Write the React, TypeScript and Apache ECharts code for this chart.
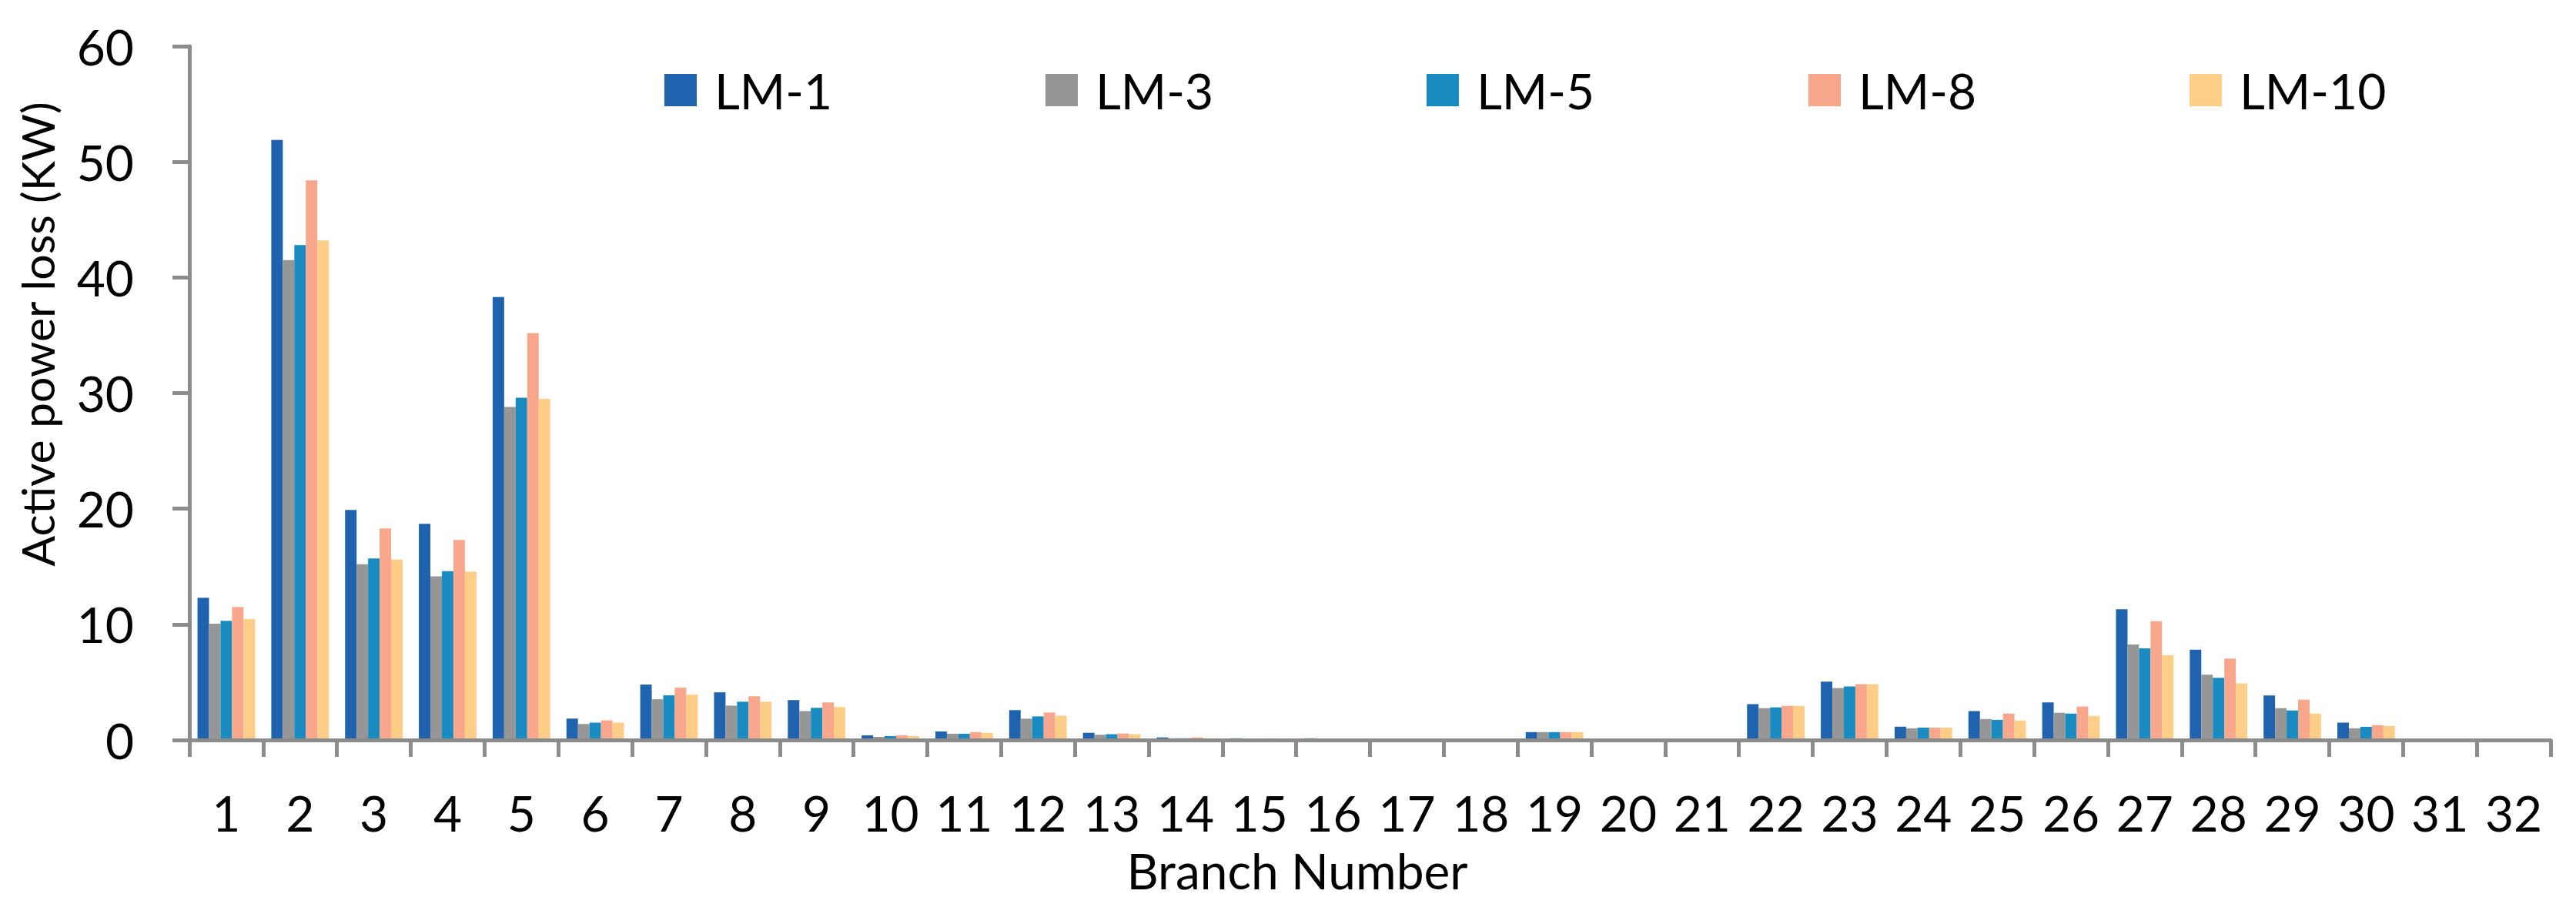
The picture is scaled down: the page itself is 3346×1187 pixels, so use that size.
import React, { useEffect, useRef } from "react";
import * as echarts from "echarts";

const branches = Array.from({ length: 32 }, (_, i) => String(i + 1));
const seriesNames = ["LM-1", "LM-3", "LM-5", "LM-8", "LM-10"];
const seriesColors = ["#1F63AE", "#969696", "#1A8BC1", "#F8A78C", "#FECE88"];

const lm1 = [12.3, 51.9, 19.9, 18.7, 38.3, 1.85, 4.8, 4.12, 3.45, 0.4, 0.74, 2.58, 0.62, 0.22, 0.15, 0.15, 0, 0, 0.68, 0, 0, 3.1, 5.05, 1.15, 2.5, 3.25, 11.3, 7.8, 3.85, 1.5, 0.08, 0];
const lm3 = [10.05, 41.5, 15.2, 14.15, 28.8, 1.38, 3.52, 2.97, 2.5, 0.27, 0.54, 1.84, 0.45, 0.15, 0.1, 0.08, 0, 0, 0.68, 0, 0, 2.75, 4.5, 1.01, 1.81, 2.35, 8.26, 5.64, 2.75, 1.01, 0, 0];
const lm5 = [10.3, 42.8, 15.7, 14.6, 29.6, 1.5, 3.86, 3.31, 2.78, 0.34, 0.54, 2.04, 0.5, 0.15, 0.1, 0.08, 0, 0, 0.68, 0, 0, 2.82, 4.63, 1.07, 1.74, 2.28, 7.92, 5.37, 2.55, 1.14, 0, 0];
const lm8 = [11.5, 48.4, 18.3, 17.3, 35.2, 1.7, 4.52, 3.78, 3.25, 0.41, 0.68, 2.37, 0.56, 0.22, 0.14, 0.08, 0, 0, 0.68, 0, 0, 2.95, 4.83, 1.07, 2.28, 2.89, 10.27, 7.05, 3.49, 1.28, 0.07, 0];
const lm10 = [10.45, 43.2, 15.6, 14.55, 29.5, 1.5, 3.92, 3.31, 2.85, 0.34, 0.61, 2.1, 0.5, 0.15, 0.12, 0.08, 0, 0, 0.68, 0, 0, 2.95, 4.83, 1.07, 1.68, 2.08, 7.32, 4.9, 2.28, 1.21, 0.07, 0];
const seriesData = [lm1, lm3, lm5, lm8, lm10];

const yTitle = "Active power loss (KW)";
const xTitle = "Branch Number";
const legendLefts = [863, 1358, 1853, 2349, 2844];

const FONT = "Lato, 'Open Sans', sans-serif";
const AXIS_GRAY = "#8C8C8C";

export default function App() {
  const ref = useRef<HTMLDivElement>(null);
  useEffect(() => {
    if (!ref.current) return;
    const chart = echarts.init(ref.current, undefined, { renderer: "svg" });
    const option = {
      animation: false,
      backgroundColor: "#ffffff",
      grid: { left: 246, right: 33, top: 60, bottom: 226, containLabel: false },
      legend: seriesNames.map((n, i) => ({
        data: [n],
        left: legendLefts[i],
        top: 85,
        padding: 0,
        itemWidth: 42,
        itemHeight: 42,
        icon: "rect",
        textStyle: {
          fontFamily: FONT,
          fontSize: 64,
          color: "#000",
          lineHeight: 42,
          padding: [0, 0, 0, 18],
        },
      })),
      xAxis: {
        type: "category",
        data: branches,
        boundaryGap: true,
        z: 5,
        axisLine: { show: true, lineStyle: { color: AXIS_GRAY, width: 5 } },
        axisTick: { show: true, length: 22, lineStyle: { color: AXIS_GRAY, width: 5 } },
        axisLabel: { interval: 0, margin: 62, fontFamily: FONT, fontSize: 64, color: "#000" },
        splitLine: { show: false },
      },
      yAxis: {
        type: "value",
        min: 0,
        max: 60,
        interval: 10,
        z: 5,
        axisLine: { show: true, lineStyle: { color: AXIS_GRAY, width: 5 } },
        axisTick: { show: true, length: 22, lineStyle: { color: AXIS_GRAY, width: 5 } },
        axisLabel: { margin: 72, fontFamily: FONT, fontSize: 64, color: "#000" },
        splitLine: { show: false },
      },
      graphic: [
        {
          type: "text",
          x: 48,
          y: 434,
          rotation: Math.PI / 2,
          style: {
            text: yTitle,
            fontFamily: FONT,
            fontSize: 59,
            fill: "#000",
            align: "center",
            verticalAlign: "middle",
          },
        },
        {
          type: "text",
          x: 1685,
          y: 1130,
          style: {
            text: xTitle,
            fontFamily: FONT,
            fontSize: 64,
            fill: "#000",
            align: "center",
            verticalAlign: "middle",
          },
        },
      ],
      series: seriesNames.map((n, i) => ({
        name: n,
        type: "bar",
        data: seriesData[i],
        barGap: "0%",
        barCategoryGap: "22%",
        itemStyle: { color: seriesColors[i] },
      })),
    };
    chart.setOption(option as any);
    return () => chart.dispose();
  }, []);
  return (
    <div
      ref={ref}
      style={{ position: "absolute", left: 0, top: 0, width: 3346, height: 1187, background: "#fff" }}
    />
  );
}
